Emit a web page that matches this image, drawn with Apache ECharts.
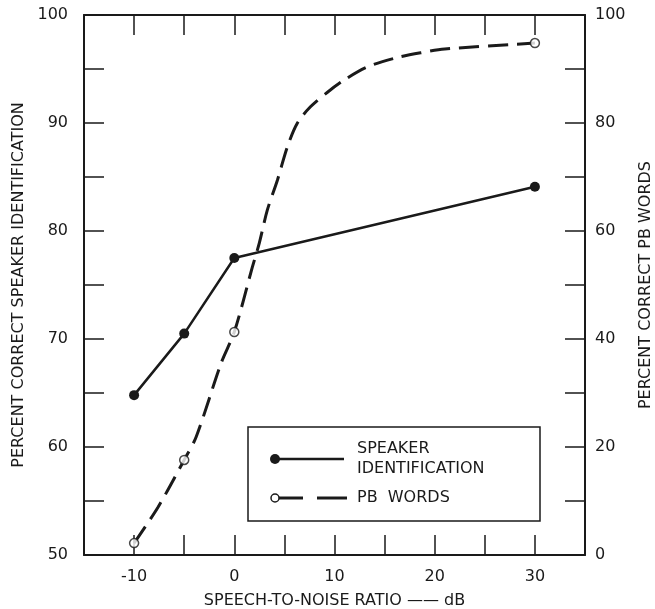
<!DOCTYPE html>
<html>
<head>
<meta charset="utf-8">
<script src="https://cdn.jsdelivr.net/npm/echarts@6/dist/echarts.min.js"></script>
<style>
  html, body { margin: 0; padding: 0; background: #fff; }
  #chart { width: 655px; height: 609px; }
</style>
</head>
<body>
<div id="chart"></div>
<script>
// measured points (x = speech-to-noise ratio, dB)
var snr = [-10, -5, 0, 30];
var speakerId = [64.8, 70.5, 77.5, 84.1];   // left axis, percent
var pbWords = [2.2, 17.6, 41.3, 94.8];      // right axis, percent

// dashed PB curve as drawn through the points
var pbCurveX = [-10, -7.6, -5, -3.8, -1.3, 0, 1.8, 2.5, 3.3, 4.3, 5.3, 6.3, 7.6, 9.3, 11, 13.3, 16, 18.6, 21, 30];
var pbCurveY = [2.2, 8.9, 17.6, 21.9, 35.6, 41.3, 53.3, 57.8, 63.9, 69.4, 75.6, 80.0, 83.0, 85.7, 88.0, 90.4, 92.0, 93.0, 93.7, 94.8];

var ink = "#1a1a1a";
var font = "DejaVu Sans";

function pairs(xs, ys) {
  return xs.map(function (x, i) { return [x, ys[i]]; });
}

var myChart = echarts.init(document.getElementById("chart"));

var tickStyle = { show: true, inside: true, length: 20, lineStyle: { color: ink, width: 1.5 } };
var lineStyle = { show: true, onZero: false, lineStyle: { color: ink, width: 2 } };

var option = {
  backgroundColor: "#fff",
  animation: false,
  grid: { left: 84, right: 70, top: 15, bottom: 54, outerBoundsMode: "none" },
  xAxis: [
    {
      type: "value",
      min: -15,
      max: 35,
      interval: 5,
      axisLine: lineStyle,
      axisTick: tickStyle,
      splitLine: { show: false },
      axisLabel: {
        color: ink,
        fontFamily: font,
        fontSize: 16,
        margin: 14,
        formatter: function (v) {
          return v % 10 === 0 && v >= -10 && v <= 30 ? String(v) : "";
        },
      },
      name: "SPEECH-TO-NOISE RATIO —— dB",
      nameLocation: "middle",
      nameGap: 38,
      nameTextStyle: { color: ink, fontFamily: font, fontSize: 16 },
    },
    {
      type: "value",
      position: "top",
      min: -15,
      max: 35,
      interval: 5,
      axisLine: lineStyle,
      axisTick: tickStyle,
      axisLabel: { show: false },
      splitLine: { show: false },
    },
  ],
  yAxis: [
    {
      type: "value",
      position: "left",
      min: 50,
      max: 100,
      interval: 5,
      axisLine: lineStyle,
      axisTick: tickStyle,
      splitLine: { show: false },
      axisLabel: {
        color: ink,
        fontFamily: font,
        fontSize: 16,
        margin: 16,
        formatter: function (v) { return v % 10 === 0 ? String(v) : ""; },
      },
      name: "PERCENT CORRECT SPEAKER IDENTIFICATION",
      nameLocation: "middle",
      nameRotate: 90,
      nameGap: 50,
      nameTextStyle: { color: ink, fontFamily: font, fontSize: 16 },
    },
    {
      type: "value",
      position: "right",
      min: 0,
      max: 100,
      interval: 10,
      axisLine: lineStyle,
      axisTick: tickStyle,
      splitLine: { show: false },
      axisLabel: {
        color: ink,
        fontFamily: font,
        fontSize: 16,
        margin: 10,
        formatter: function (v) { return v % 20 === 0 ? String(v) : ""; },
      },
      name: "PERCENT CORRECT PB WORDS",
      nameLocation: "middle",
      nameRotate: 90,
      nameGap: 53,
      nameTextStyle: { color: ink, fontFamily: font, fontSize: 16 },
    },
  ],
  series: [
    {
      name: "SPEAKER IDENTIFICATION",
      type: "line",
      xAxisIndex: 0,
      yAxisIndex: 0,
      data: pairs(snr, speakerId),
      symbol: "circle",
      symbolSize: 10,
      itemStyle: { color: ink },
      lineStyle: { color: ink, width: 2.5 },
      z: 3,
    },
    {
      name: "PB WORDS curve",
      type: "line",
      xAxisIndex: 0,
      yAxisIndex: 1,
      data: pairs(pbCurveX, pbCurveY),
      smooth: 0.3,
      showSymbol: false,
      symbol: "none",
      lineStyle: { color: ink, width: 3, type: [20, 9] },
      z: 2,
    },
    {
      name: "PB WORDS",
      type: "scatter",
      xAxisIndex: 0,
      yAxisIndex: 1,
      data: pairs(snr, pbWords),
      symbol: "circle",
      symbolSize: 9,
      itemStyle: { color: "#fff", borderColor: ink, borderWidth: 1.5 },
      z: 4,
    },
  ],
  graphic: [
    {
      type: "rect",
      shape: { x: 248, y: 427, width: 292, height: 94 },
      style: { fill: "#fff", stroke: ink, lineWidth: 1.5 },
      z: 10,
    },
    {
      type: "line",
      shape: { x1: 275, y1: 459, x2: 344, y2: 459 },
      style: { stroke: ink, lineWidth: 2.5 },
      z: 11,
    },
    {
      type: "circle",
      shape: { cx: 275, cy: 459, r: 5 },
      style: { fill: ink },
      z: 12,
    },
    {
      type: "text",
      style: {
        x: 357, y: 459,
        text: "SPEAKER\nIDENTIFICATION",
        fill: ink, font: "16px 'DejaVu Sans'",
        textVerticalAlign: "middle", lineHeight: 20,
      },
      z: 11,
    },
    {
      type: "line",
      shape: { x1: 279, y1: 498, x2: 303, y2: 498 },
      style: { stroke: ink, lineWidth: 3 },
      z: 11,
    },
    {
      type: "line",
      shape: { x1: 317, y1: 498, x2: 347, y2: 498 },
      style: { stroke: ink, lineWidth: 3 },
      z: 11,
    },
    {
      type: "circle",
      shape: { cx: 275, cy: 498, r: 4 },
      style: { fill: "#fff", stroke: ink, lineWidth: 1.5 },
      z: 12,
    },
    {
      type: "text",
      style: {
        x: 357, y: 498,
        text: "PB  WORDS",
        fill: ink, font: "16px 'DejaVu Sans'",
        textVerticalAlign: "middle",
      },
      z: 11,
    },
  ],
};

myChart.setOption(option);
window.onresize = myChart.resize;
</script>
</body>
</html>
